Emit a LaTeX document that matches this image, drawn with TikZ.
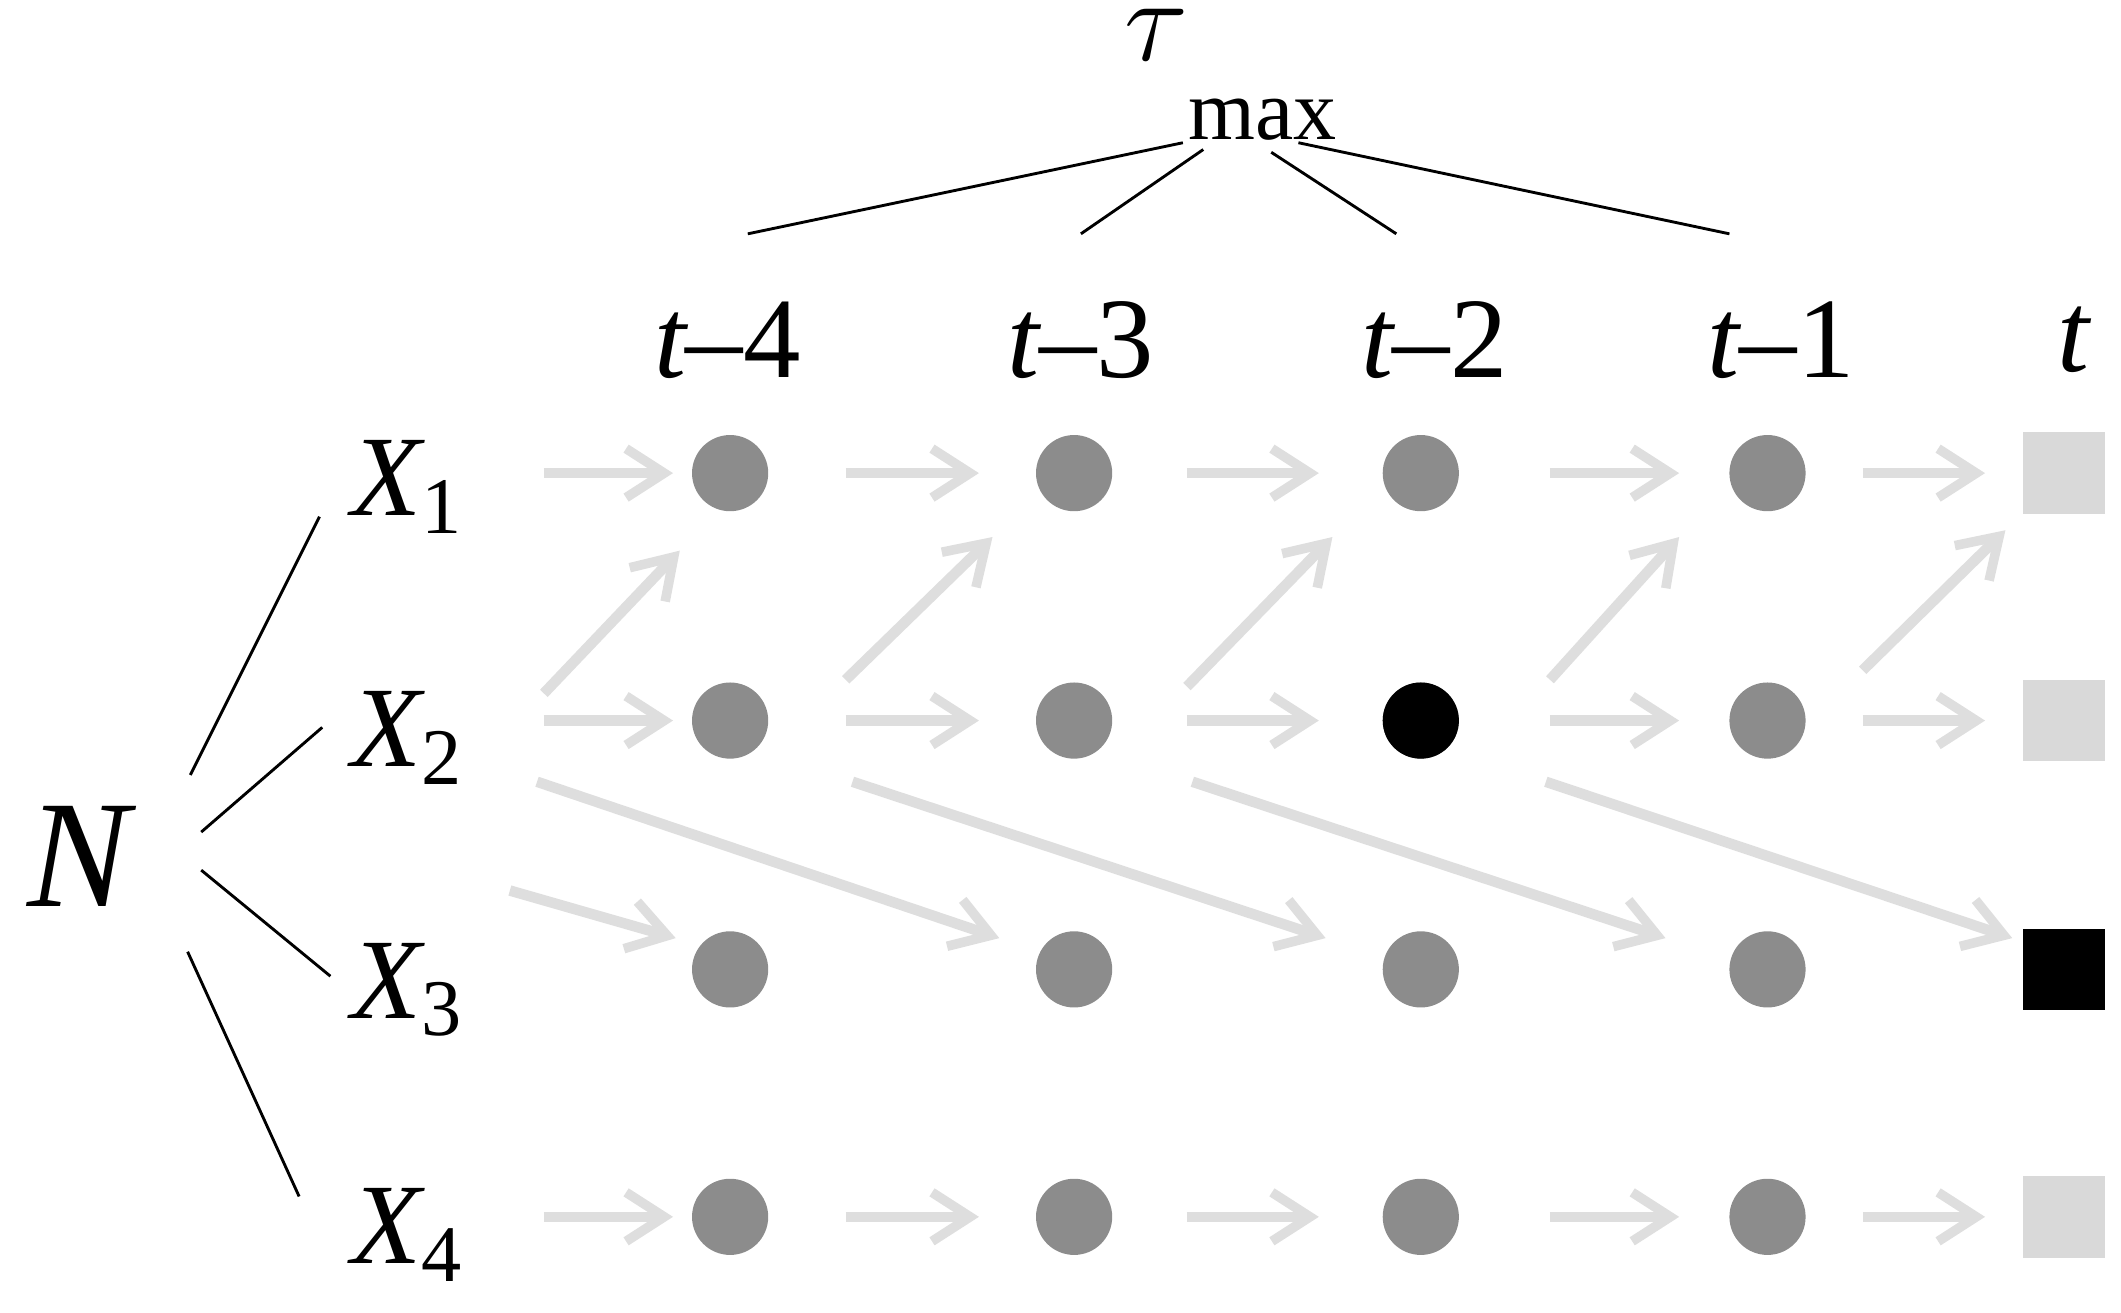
\documentclass[tikz,border=0pt]{standalone}
\usepackage{fontspec}
\setmainfont{Liberation Serif}
\usetikzlibrary{arrows.meta}
\begin{document}
\begin{tikzpicture}[x=0.01cm,y=-0.01cm,
  dot/.style={circle,fill=black!45,minimum size=0.56cm,inner sep=0},
  sq/.style={rectangle,fill=black!15,minimum size=0.6cm,inner sep=0},
  arr/.style={draw=black!13,line width=2.2pt,-{Straight Barb[length=2.8mm,width=3.6mm,line width=2pt]}},
  lbl/.style={font=\fontsize{24}{24}\selectfont\itshape},
  ln/.style={line width=0.6pt}]
\useasboundingbox (0,0) rectangle (1560,965);
% nodes
\foreach \c/\x in {1/537,2/790,3/1045,4/1300}{
  \foreach \r/\y in {1/348,2/530,3/713,4/895}{
    \node[dot] (d\c\r) at (\x,\y) {};
  }
}
\node[dot,fill=black] at (d32) {};
\foreach \r/\y in {1/348,2/530,3/713,4/895}{\node[sq] (d5\r) at (1518,\y) {};}
\node[sq,fill=black] at (d53) {};
% labels
\node[lbl] (x1) at (300,358) {X\textsubscript{\upshape 1}};
\node[lbl] (x2) at (300,543) {X\textsubscript{\upshape 2}};
\node[lbl] (x3) at (300,728) {X\textsubscript{\upshape 3}};
\node[lbl] (x4) at (300,908) {X\textsubscript{\upshape 4}};
\node[font=\fontsize{32}{32}\selectfont\itshape] (n) at (58,630) {N};
\foreach \t/\x in {4/535,3/795,2/1055,1/1310}{\node[lbl] (t\t) at (\x,250) {t\upshape{–\t}};}
\node[lbl] (t0) at (1525,250) {t};
\node[font=\fontsize{30}{30}\selectfont\itshape] (tau) at (905,55) {$\tau$\raisebox{-1.2ex}{\upshape\fontsize{18}{18}\selectfont max}};
% tree lines
\coordinate (n1) at (140,570); \coordinate (e1) at (235,380);
\coordinate (n2) at (148,612); \coordinate (e2) at (237,535);
\coordinate (n3) at (148,640); \coordinate (e3) at (243,718);
\coordinate (n4) at (138,700); \coordinate (e4) at (220,880);
\foreach \i in {1,...,4}{\draw[ln] (n\i) -- (e\i);}
\coordinate (a1) at (870,105); \coordinate (b1) at (550,172);
\coordinate (a2) at (885,110); \coordinate (b2) at (795,172);
\coordinate (a3) at (935,112); \coordinate (b3) at (1027,172);
\coordinate (a4) at (955,105); \coordinate (b4) at (1272,172);
\foreach \i in {1,...,4}{\draw[ln] (a\i) -- (b\i);}
% arrows
\foreach \s/\e/\y in {400/495/348,622/720/348,873/970/348,1140/1235/348,1370/1460/348,
                      400/495/530,622/720/530,873/970/530,1140/1235/530,1370/1460/530,
                      400/495/895,622/720/895,873/970/895,1140/1235/895,1370/1460/895}{
  \coordinate (hs) at (\s,\y); \coordinate (he) at (\e,\y);
  \draw[arr] (hs) -- (he);
}
\foreach \sx/\sy/\ex/\ey in {400/510/500/405,622/500/730/395,873/505/980/395,1140/500/1235/395,1370/493/1475/390,
  395/575/735/690,627/575/975/690,877/575/1225/690,1137/575/1480/690,375/655/497/690}{
  \coordinate (ds) at (\sx,\sy); \coordinate (de) at (\ex,\ey);
  \draw[arr] (ds) -- (de);
}
\end{tikzpicture}
\end{document}
